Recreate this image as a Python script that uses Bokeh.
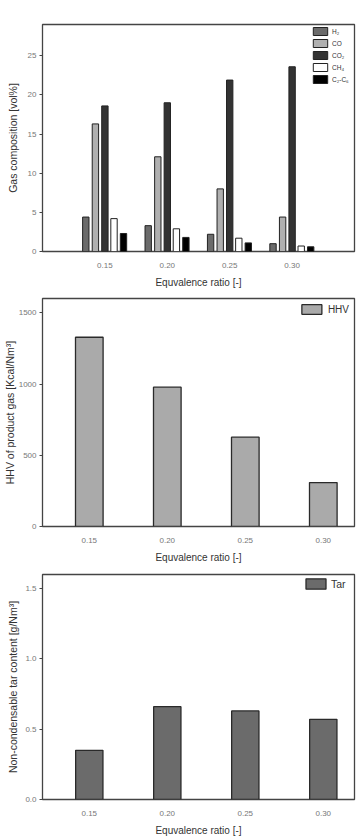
from bokeh.plotting import figure
from bokeh.layouts import column
from bokeh.models import Range1d, FixedTicker, ColumnDataSource, NumeralTickFormatter
from bokeh.transform import dodge
from bokeh.embed import file_html
from bokeh.resources import INLINE

# ---- data ----
er = [0.15, 0.20, 0.25, 0.30]
h2 = [4.4, 3.3, 2.2, 1.0]
co = [16.3, 12.1, 8.0, 4.4]
co2 = [18.6, 19.0, 21.9, 23.6]
ch4 = [4.2, 2.9, 1.7, 0.7]
c2c6 = [2.3, 1.8, 1.1, 0.6]
species = ["H₂", "CO", "CO₂", "CH₄", "C₂-C₆"]
hhv = [1328, 978, 627, 308]
tar = [0.35, 0.66, 0.63, 0.57]
gas_yticks = [0, 5, 10, 15, 20, 25]
hhv_yticks = [0, 500, 1000, 1500]
tar_yticks = [0.0, 0.5, 1.0, 1.5]

FONT = "Liberation Sans"
XLABEL = "Equvalence ratio [-]"


def style(p, ylabel, yticks, yfmt, ystandoff):
    p.outline_line_color = "#444444"
    p.outline_line_width = 1.3
    p.xgrid.visible = False
    p.ygrid.visible = False
    p.background_fill_color = "white"
    p.border_fill_color = "white"
    p.xaxis.ticker = FixedTicker(ticks=er)
    p.xaxis.formatter = NumeralTickFormatter(format="0.00")
    p.yaxis.ticker = FixedTicker(ticks=yticks)
    p.yaxis.formatter = NumeralTickFormatter(format=yfmt)
    for ax in (p.xaxis[0], p.yaxis[0]):
        ax.axis_line_color = None
        ax.minor_tick_line_color = None
        ax.major_label_text_font = FONT
        ax.major_label_text_font_size = "8px"
        ax.major_label_text_color = "#777777"
        ax.axis_label_text_font = FONT
        ax.axis_label_text_font_style = "normal"
        ax.axis_label_text_color = "#333333"
    p.xaxis.major_tick_line_color = None
    p.xaxis.major_label_standoff = 5
    p.xaxis.axis_label = XLABEL
    p.xaxis.axis_label_text_font_size = "10px"
    p.xaxis.axis_label_standoff = 6
    p.yaxis.major_tick_in = 0
    p.yaxis.major_tick_out = 3
    p.yaxis.major_tick_line_color = "#444444"
    p.yaxis.major_label_standoff = 3
    p.yaxis.axis_label = ylabel
    p.yaxis.axis_label_text_font_size = "10.5px"
    p.yaxis.axis_label_standoff = ystandoff


def style_legend(p, gw, gh, fs, margin, padding, standoff, spacing):
    lg = p.legend[0]
    lg.location = "top_right"
    lg.background_fill_alpha = 0
    lg.border_line_color = None
    lg.glyph_width = gw
    lg.glyph_height = gh
    lg.label_height = gh
    lg.label_text_font = FONT
    lg.label_text_font_size = fs
    lg.label_text_color = "#333333"
    lg.margin = margin
    lg.padding = padding
    lg.label_standoff = standoff
    lg.spacing = spacing


# ---- panel 1: gas composition ----
src1 = ColumnDataSource(dict(er=er, h2=h2, co=co, co2=co2, ch4=ch4, c2c6=c2c6))
p1 = figure(width=359, height=290, output_backend="svg", toolbar_location=None,
            x_range=Range1d(0.10, 0.35), y_range=Range1d(0, 29),
            min_border_left=38, min_border_right=3, min_border_top=24,
            min_border_bottom=34)
cols = ["h2", "co", "co2", "ch4", "c2c6"]
fills = ["#6b6b6b", "#b0b0b0", "#333333", "#ffffff", "#000000"]
offsets = [-0.0153, -0.0076, 0.0, 0.0073, 0.0149]
for c, f, o, lab in zip(cols, fills, offsets, species):
    p1.vbar(x=dodge("er", o), top=c, width=0.0051, source=src1,
            fill_color=f, line_color="#222222", line_width=1, legend_label=lab)
style(p1, "Gas composition [vol%]", gas_yticks, "0", 6)
style_legend(p1, 18, 10, "6.5px", 2, 3, 3, 2)

# ---- panel 2: HHV ----
src2 = ColumnDataSource(dict(er=er, hhv=hhv))
p2 = figure(width=359, height=275, output_backend="svg", toolbar_location=None,
            x_range=Range1d(0.12, 0.32), y_range=Range1d(0, 1600),
            min_border_left=38, min_border_right=5, min_border_top=8,
            min_border_bottom=35)
p2.vbar(x="er", top="hhv", width=0.0177, source=src2, fill_color="#aaaaaa",
        line_color="#2a2a2a", line_width=1.3, legend_label="HHV")
style(p2, "HHV of product gas [Kcal/Nm³]", hhv_yticks, "0", 0)
style_legend(p2, 25, 12, "10px", 5, 4, 4, 2)

# ---- panel 3: tar ----
src3 = ColumnDataSource(dict(er=er, tar=tar))
p3 = figure(width=359, height=273, output_backend="svg", toolbar_location=None,
            x_range=Range1d(0.12, 0.32), y_range=Range1d(0, 1.6),
            min_border_left=39, min_border_right=5, min_border_top=9,
            min_border_bottom=33)
p3.vbar(x="er", top="tar", width=0.0175, source=src3, fill_color="#6b6b6b",
        line_color="#2a2a2a", line_width=1.3, legend_label="Tar")
style(p3, "Non-condensable tar content [g/Nm³]", tar_yticks, "0.0", 3)
style_legend(p3, 25, 13, "10.5px", 3, 3, 3, 2)

layout = column(p1, p2, p3, spacing=0)
open("out.html", "w").write(file_html(layout, INLINE))
